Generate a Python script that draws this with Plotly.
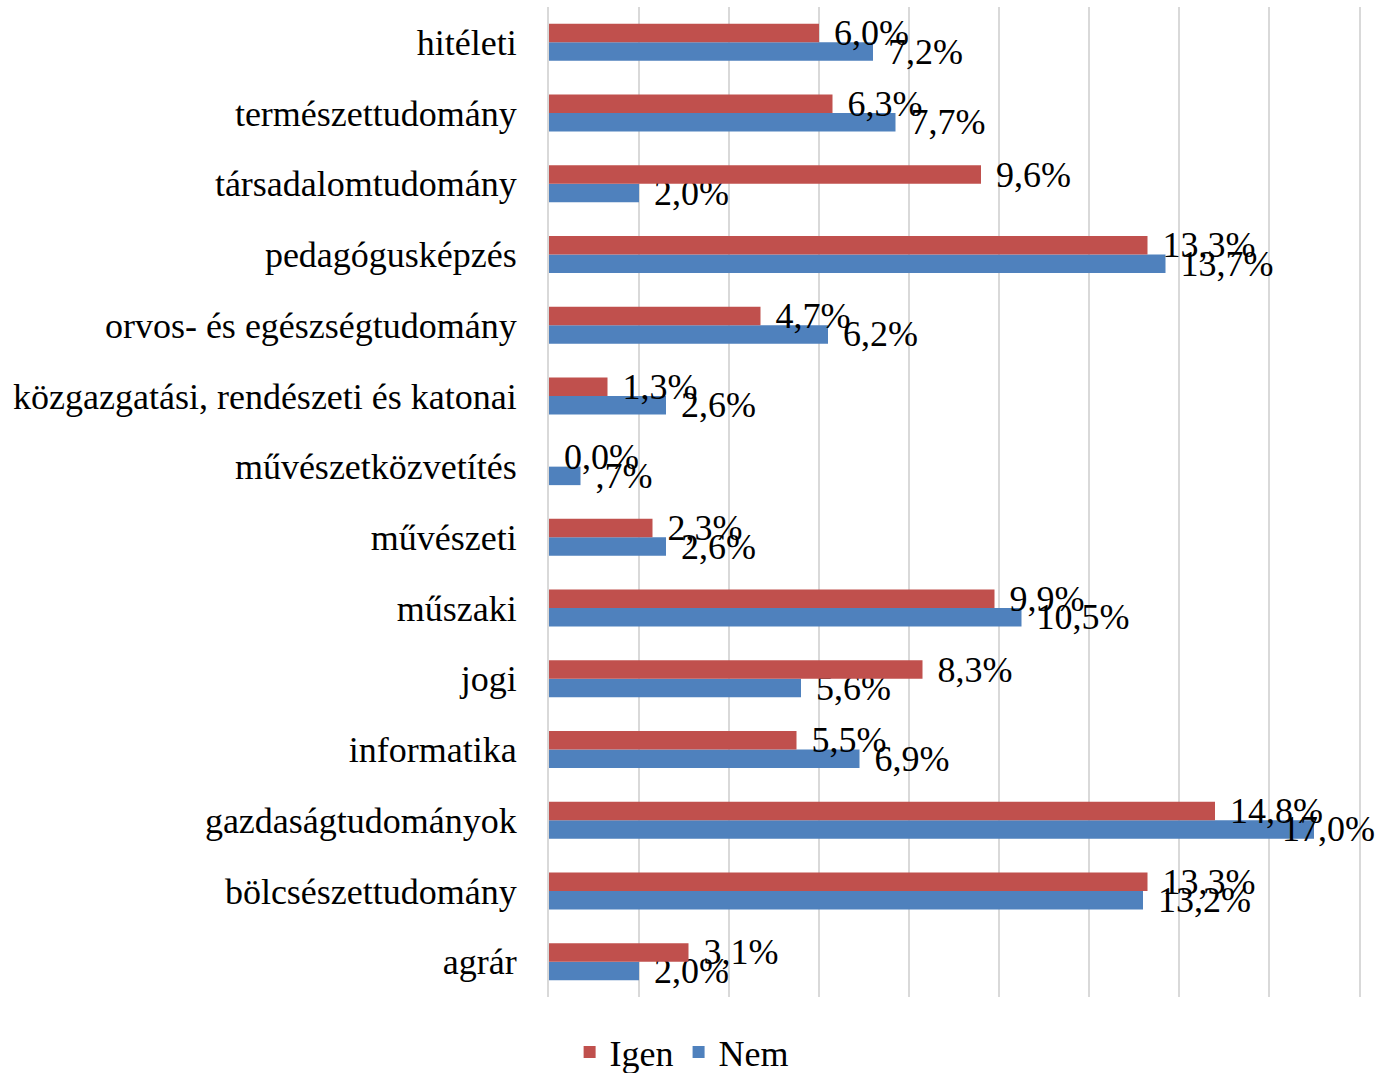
import plotly.graph_objects as go

# Categories listed bottom -> top (as drawn)
categories = [
    "agrár",
    "bölcsészettudomány",
    "gazdaságtudományok",
    "informatika",
    "jogi",
    "műszaki",
    "művészeti",
    "művészetközvetítés",
    "közgazgatási, rendészeti és katonai",
    "orvos- és egészségtudomány",
    "pedagógusképzés",
    "társadalomtudomány",
    "természettudomány",
    "hitéleti",
]
igen = [3.1, 13.3, 14.8, 5.5, 8.3, 9.9, 2.3, 0.0, 1.3, 4.7, 13.3, 9.6, 6.3, 6.0]
nem = [2.0, 13.2, 17.0, 6.9, 5.6, 10.5, 2.6, 0.7, 2.6, 6.2, 13.7, 2.0, 7.7, 7.2]
x_ticks = [0, 2, 4, 6, 8, 10, 12, 14, 16, 18]
X_MAX = 18

RED = "#C0504D"
BLUE = "#4F81BD"
GRID = "#D9D9D9"
FONT = "Liberation Serif, Times New Roman, serif"
FS = 36
PAD = "\u00a0\u200a"


def fmt(v, strip_zero=False):
    s = f"{v:.1f}".replace(".", ",")
    if strip_zero and s.startswith("0,") and v != 0:
        s = s[1:]
    return s + "%"


def fits(v):
    # labels of bars too close to the chart edge are pulled back inside (as Excel does)
    return v <= X_MAX - 2


nem_text = [PAD + fmt(v, True) if fits(v) else "" for v in nem]
igen_text = [PAD + fmt(v) if fits(v) else "" for v in igen]

fig = go.Figure()
fig.add_trace(go.Bar(
    name="Nem", y=categories, x=nem, orientation="h",
    marker=dict(color=BLUE, line=dict(width=0)),
    text=nem_text, textposition="outside", constraintext="none",
    cliponaxis=False, textfont=dict(family=FONT, size=FS, color="black"),
))
fig.add_trace(go.Bar(
    name="Igen", y=categories, x=igen, orientation="h",
    marker=dict(color=RED, line=dict(width=0)),
    text=igen_text, textposition="outside", constraintext="none",
    cliponaxis=False, textfont=dict(family=FONT, size=FS, color="black"),
))

annotations = []
for cat, v in zip(categories, nem):
    if not fits(v):
        annotations.append(dict(
            x=1, xref="paper", xanchor="right", xshift=18,
            y=cat, yref="y", yanchor="middle", yshift=-9,
            text=fmt(v, True), showarrow=False,
            font=dict(family=FONT, size=FS, color="black"),
        ))
for cat, v in zip(categories, igen):
    if not fits(v):
        annotations.append(dict(
            x=1, xref="paper", xanchor="right", xshift=18,
            y=cat, yref="y", yanchor="middle", yshift=9,
            text=fmt(v), showarrow=False,
            font=dict(family=FONT, size=FS, color="black"),
        ))

fig.update_layout(
    width=1377, height=1073,
    barmode="group", bargap=0.477, bargroupgap=0,
    plot_bgcolor="white", paper_bgcolor="white",
    margin=dict(l=549, r=18, t=7, b=76, autoexpand=False),
    font=dict(family=FONT, size=FS, color="black"),
    showlegend=True,
    legend=dict(
        orientation="h", traceorder="reversed",
        xref="container", yref="paper",
        x=0.495, xanchor="center", y=-0.0556, yanchor="middle",
        font=dict(family=FONT, size=FS, color="black"),
        itemwidth=30,
    ),
    annotations=annotations,
)
fig.update_xaxes(
    range=[0, X_MAX], tickvals=x_ticks, showticklabels=False,
    showgrid=True, gridcolor=GRID, gridwidth=2,
    zeroline=False, showline=False, ticks="",
)
fig.update_yaxes(
    categoryorder="array", categoryarray=categories,
    showgrid=False, zeroline=False, ticks="",
    showline=True, mirror=True, linecolor=GRID, linewidth=2,
    ticklabelstandoff=23,
    tickfont=dict(family=FONT, size=FS, color="black"),
    automargin=False,
)

fig.write_html(
    "out.html",
    config={"displayModeBar": False},
    post_script="document.body.style.margin='0px';",
)
